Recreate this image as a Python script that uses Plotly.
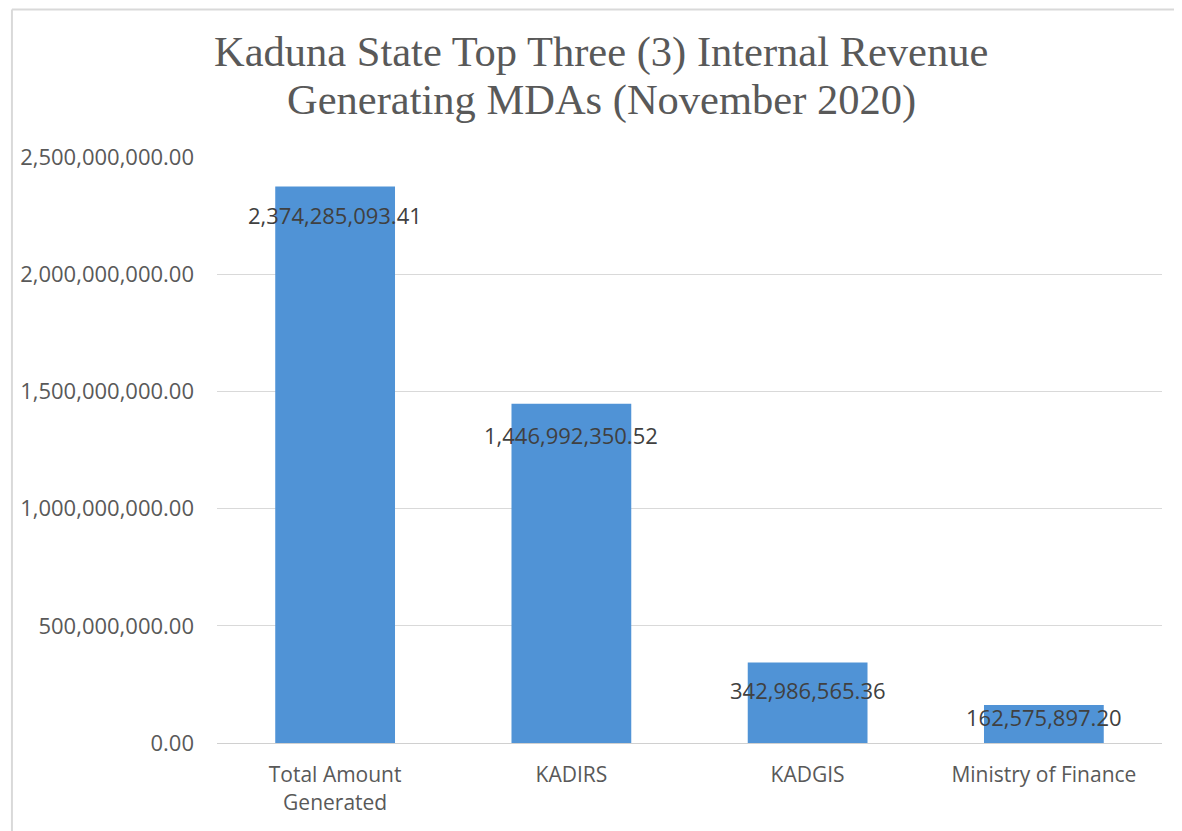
import plotly.graph_objects as go

categories = ["Total Amount<br>Generated", "KADIRS", "KADGIS", "Ministry of Finance"]
values = [2374285093.41, 1446992350.52, 342986565.36, 162575897.20]
tick_values = [0, 500000000, 1000000000, 1500000000, 2000000000, 2500000000]
title_lines = ["Kaduna State Top Three (3) Internal Revenue", "Generating MDAs (November 2020)"]
label_offsets = [-29, -31, -27, -12]

# page has an 8px body margin; compensate so the plot lands where the reference has it
OFF = 8
W, H = 1182 - OFF, 831 - OFF
L, R, T, B = 215 - OFF, 20, 157 - OFF, 88
PW, PH = W - L - R, H - T - B

def px_x(x):
    return (x - OFF - L) / PW

def px_y(y):
    return (H - B - (y - OFF)) / PH

fig = go.Figure()
fig.add_trace(go.Bar(
    x=categories, y=values,
    marker=dict(color="#5093d6", line=dict(width=0)),
    hoverinfo="x+y",
))

for c, v, off in zip(categories, values, label_offsets):
    fig.add_annotation(
        x=c, y=v, xref="x", yref="y",
        text=f"{v:,.2f}", showarrow=False,
        yanchor="middle", yshift=off,
        font=dict(family="Open Sans", size=22, color="#404040"),
    )

for line, yc in zip(title_lines, [52, 100]):
    fig.add_annotation(
        x=px_x(600), y=px_y(yc), xref="paper", yref="paper",
        text=line, showarrow=False, xanchor="center", yanchor="middle",
        font=dict(family="Liberation Serif", size=42.5, color="#595959"),
    )

# outer border of chart area (left and top edges)
fig.add_shape(type="line", xref="paper", yref="paper",
              x0=px_x(9.5), x1=px_x(9.5), y0=px_y(900), y1=px_y(9.5),
              line=dict(color="#d9d9d9", width=2), layer="below")
fig.add_shape(type="line", xref="paper", yref="paper",
              x0=px_x(9.5), x1=px_x(1300), y0=px_y(9.5), y1=px_y(9.5),
              line=dict(color="#d9d9d9", width=2), layer="below")

fig.update_layout(
    width=W, height=H,
    margin=dict(l=L, r=R, t=T, b=B),
    paper_bgcolor="white", plot_bgcolor="white",
    bargap=0.493,
    showlegend=False,
    font=dict(family="Open Sans", color="#595959"),
)
fig.update_yaxes(
    range=[0, 2500000000], tickvals=tick_values, tickformat=",.2f",
    showgrid=True, gridcolor="#d9d9d9", gridwidth=1,
    zeroline=True, zerolinecolor="#d0d0d0", zerolinewidth=1,
    showline=False, ticks="", ticklabelstandoff=22,
    tickfont=dict(family="Open Sans", size=22, color="#595959"),
)
fig.update_xaxes(
    showgrid=False, showline=True, linecolor="#d0d0d0", linewidth=1,
    ticks="", ticklabelstandoff=13,
    tickfont=dict(family="Open Sans", size=21, color="#595959"),
)

fig.write_html("out.html")
